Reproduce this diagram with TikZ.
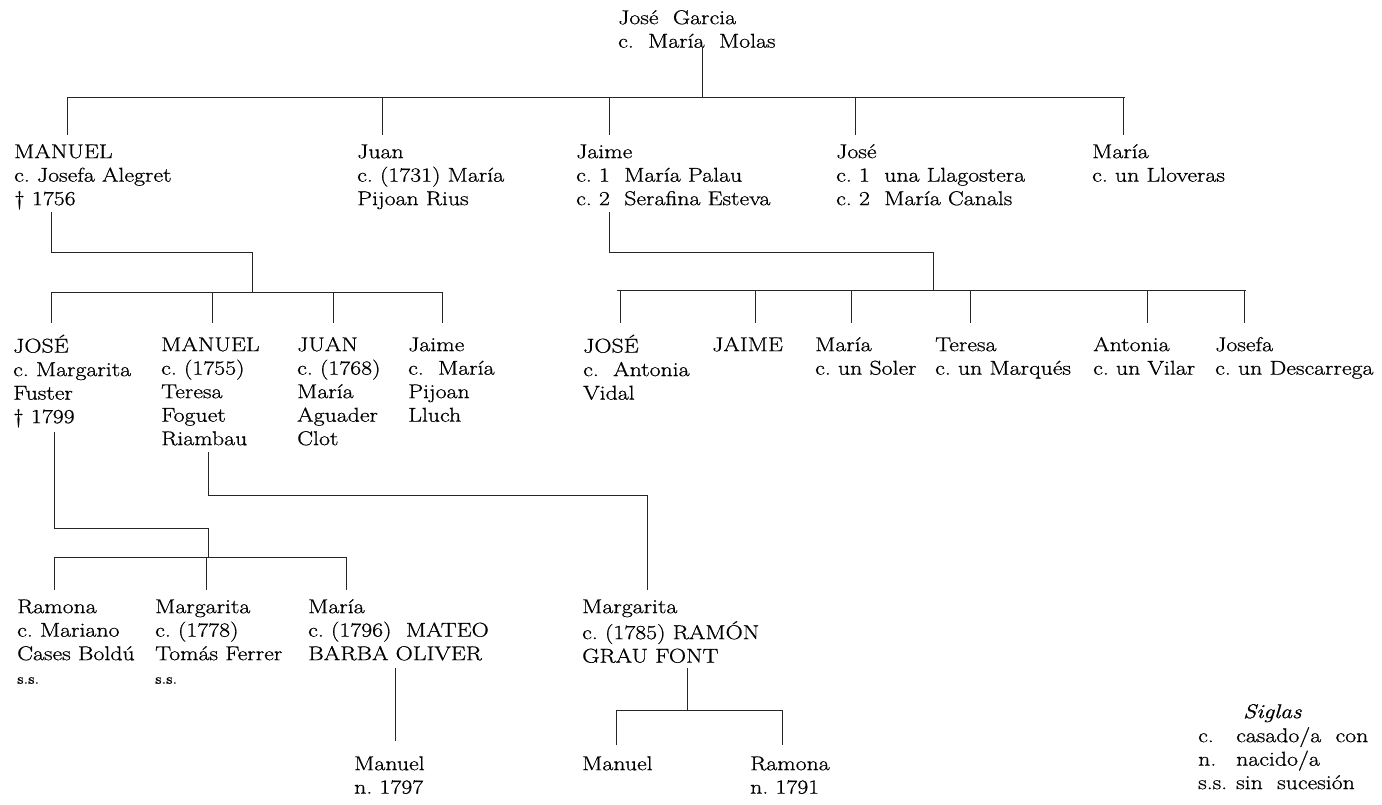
\documentclass[tikz,border=0pt]{standalone}
\usepackage{fontspec}
\setmainfont{Latin Modern Roman}[FakeStretch=1.19,FakeBold=0.8]
\frenchspacing
\begin{document}
\begin{tikzpicture}[x=1pt,y=-1pt,
  person/.style={anchor=north west, inner sep=0pt, align=left, font=\fontsize{20}{23.5}\selectfont},
  tree/.style={line width=0.9pt, black!85}]
\useasboundingbox (0,0) rectangle (1382,804);
\newcommand\ssmall[1]{{\fontsize{14}{23.5}\selectfont #1}}
% ---------- people (x = left edge, y = first line centre - 10.5)
\node[person] (garcia)  at (618,7.5)   {\strut José\ \ Garcia\\c.\ \ María\ \ Molas};
\node[person] (manuel1) at (14,141.5)  {\strut MANUEL\\c. Josefa Alegret\\\textdagger\ 1756};
\node[person] (juan1)   at (357,141.5) {\strut Juan\\c. (1731) María\\Pijoan Rius};
\node[person] (jaime1)  at (576,141.5) {\strut Jaime\\c. 1\ \ María Palau\\c. 2\ \ Serafina Esteva};
\node[person] (jose1)   at (836,141.5) {\strut José\\c. 1\ \ una Llagostera\\c. 2\ \ María Canals};
\node[person] (maria1)  at (1092,141.5){\strut María\\c. un Lloveras};
% row 2
\node[person] (jose2)   at (13,334.5)  {\strut JOSÉ\\c. Margarita\\Fuster\\\textdagger\ 1799};
\node[person] (manuel2) at (161,334.5) {\strut MANUEL\\c. (1755)\\Teresa\\Foguet\\Riambau};
\node[person] (juan2)   at (297,334.5) {\strut JUAN\\c. (1768)\\María\\Aguader\\Clot};
\node[person] (jaime2)  at (408,334.5) {\strut Jaime\\c.\ \ María\\Pijoan\\Lluch};
\node[person] (jose3)   at (583,334.5) {\strut JOSÉ\\c.\ \ Antonia\\Vidal};
\node[person] (jaime3)  at (712,334.5) {\strut JAIME};
\node[person] (maria2)  at (815,334.5) {\strut María\\c. un Soler};
\node[person] (teresa)  at (935,334.5) {\strut Teresa\\c. un Marqués};
\node[person] (antonia) at (1093,334.5){\strut Antonia\\c. un Vilar};
\node[person] (josefa)  at (1215,334.5){\strut Josefa\\c. un Descarrega};
% row 3
\node[person] (ramona1) at (17,596.5)  {\strut Ramona\\c. Mariano\\Cases Boldú\\\ssmall{s.s.}};
\node[person] (marg1)   at (155,596.5) {\strut Margarita\\c. (1778)\\Tomás Ferrer\\\ssmall{s.s.}};
\node[person] (maria3)  at (308,596.5) {\strut María\\c. (1796)\ \ MATEO\\BARBA OLIVER};
\node[person] (marg2)   at (582,596.5) {\strut Margarita\\c. (1785) RAMÓN\\GRAU FONT};
% row 4
\node[person] (manuel4) at (354,753.5) {\strut Manuel\\n. 1797};
\node[person] (manuel5) at (582,753.5) {\strut Manuel};
\node[person] (ramona2) at (750,753.5) {\strut Ramona\\n. 1791};
% legend
\node[person] (siglas)  at (1243,701.5) {\strut\itshape Siglas};
\node[person] (sigk)    at (1198,725.5) {\strut c.\\n.\\s.s.};
\node[person] (sigv)    at (1236,725.5) {\strut casado/a\ \ con\\nacido/a\\sin\ \ sucesión};
% ---------- tree lines
% generation 1
\coordinate (g0t) at (702,47);  \coordinate (g0b) at (702,97);
\coordinate (h1l) at (67,97);   \coordinate (h1r) at (1125,97);
\draw[tree] (g0t) -- (g0b);
\draw[tree] (h1l) -- (h1r);
\foreach \x/\n in {67/manuel1,382/juan1,609/jaime1,855/jose1,1123/maria1}
  \draw[tree] (\x,97) -- (\x,135);
% Manuel's children
\coordinate (m1t) at (51,212); \coordinate (m1j) at (51,252);
\coordinate (m1k) at (252,252); \coordinate (m1b) at (252,292);
\draw[tree] (m1t) -- (m1j) -- (m1k) -- (m1b);
\coordinate (h2l) at (51,292); \coordinate (h2r) at (442,292);
\draw[tree] (h2l) -- (h2r);
\foreach \x in {51,212,333,442} \draw[tree] (\x,292) -- (\x,323);
% Jaime's children
\coordinate (j1t) at (609,212); \coordinate (j1j) at (609,252);
\coordinate (j1k) at (933,252); \coordinate (j1b) at (933,290);
\draw[tree] (j1t) -- (j1j) -- (j1k) -- (j1b);
\coordinate (h3l) at (617,290); \coordinate (h3r) at (1246,290);
\draw[tree] (h3l) -- (h3r);
\foreach \x in {620,755,851,970,1147,1244} \draw[tree] (\x,290) -- (\x,323);
% JOSÉ's children
\coordinate (jo2t) at (54,432); \coordinate (jo2j) at (54,528);
\coordinate (jo2k) at (208,528); \coordinate (jo2b) at (208,557);
\draw[tree] (jo2t) -- (jo2j) -- (jo2k) -- (jo2b);
\coordinate (h4l) at (54,557); \coordinate (h4r) at (347,557);
\draw[tree] (h4l) -- (h4r);
\foreach \x in {54,206,346} \draw[tree] (\x,557) -- (\x,590);
% MANUEL (1755)'s child
\coordinate (ma2t) at (208,452); \coordinate (ma2j) at (208,495);
\coordinate (ma2k) at (647,495); \coordinate (ma2b) at (647,590);
\draw[tree] (ma2t) -- (ma2j) -- (ma2k) -- (ma2b);
% María's child
\coordinate (mr3t) at (395,668); \coordinate (mr3b) at (395,741);
\draw[tree] (mr3t) -- (mr3b);
% Margarita's children
\coordinate (mg2t) at (687,668); \coordinate (mg2j) at (687,710);
\draw[tree] (mg2t) -- (mg2j);
\coordinate (h5l) at (616,710); \coordinate (h5r) at (783,710);
\draw[tree] (h5l) -- (h5r);
\foreach \x in {616,782} \draw[tree] (\x,710) -- (\x,745);
\end{tikzpicture}
\end{document}
